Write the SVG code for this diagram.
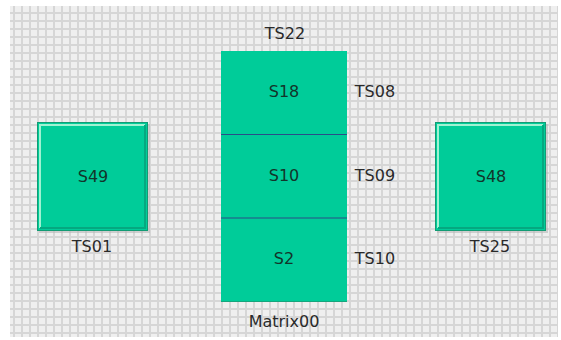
<svg xmlns="http://www.w3.org/2000/svg" width="561" height="340" viewBox="0 0 561 340">
<defs>
<pattern id="grid" x="10" y="6" width="8" height="8" patternUnits="userSpaceOnUse">
<rect width="8" height="8" fill="#efefef"/>
<rect x="3" y="0" width="2" height="8" fill="#d6d6d6"/>
<rect x="0" y="6" width="8" height="2" fill="#d6d6d6"/>
</pattern>
</defs>
<style>
.box{fill:#00cc99;stroke:#139b74;stroke-width:1}
.hi{fill:none;stroke:#9ff2d2;stroke-width:2}
.lo{fill:none;stroke:#05a880;stroke-width:2}
.sh{fill:#b8b8b8;opacity:0.6}
.in{font-family:"DejaVu Sans",sans-serif;font-size:16px;fill:#12352a;text-anchor:middle;dominant-baseline:central}
.lb{font-family:"DejaVu Sans",sans-serif;font-size:16px;fill:#2a2a2a;text-anchor:middle;dominant-baseline:central}
.div{stroke:#2b4c88;stroke-width:1.2}
</style>
<rect x="10" y="6" width="548" height="331" fill="url(#grid)"/>
<g id="connectors"></g>
<g id="S49">
<rect class="sh" x="39" y="124" width="111" height="109"/>
<rect class="box" x="37.5" y="122.5" width="110" height="108"/>
<polyline class="hi" points="40,228 40,125 145,125"/>
<polyline class="lo" points="40,228 145,228 145,125"/>
<text class="in" x="93" y="176">S49</text>
<text class="lb" x="92" y="246">TS01</text>
</g>
<g id="Matrix00">
<rect x="221" y="51" width="126" height="251" fill="#00cc99"/>
<line x1="221" y1="301.5" x2="347" y2="301.5" stroke="#17a57d" stroke-width="1"/>
<line class="div" x1="221" y1="134.5" x2="347" y2="134.5"/>
<line class="div" x1="221" y1="218" x2="347" y2="218"/>
<text class="lb" x="285" y="33">TS22</text>
<text class="lb" x="284" y="321">Matrix00</text>
</g>
<g id="S18">
<text class="in" x="284" y="91">S18</text>
<text class="lb" x="375" y="91">TS08</text>
</g>
<g id="S10">
<text class="in" x="284" y="175">S10</text>
<text class="lb" x="375" y="175">TS09</text>
</g>
<g id="S2">
<text class="in" x="284" y="258">S2</text>
<text class="lb" x="375" y="258">TS10</text>
</g>
<g id="S48">
<rect class="sh" x="437" y="124" width="111" height="109"/>
<rect class="box" x="435.5" y="122.5" width="110" height="108"/>
<polyline class="hi" points="438,228 438,125 543,125"/>
<polyline class="lo" points="438,228 543,228 543,125"/>
<text class="in" x="491" y="176">S48</text>
<text class="lb" x="490" y="246">TS25</text>
</g>
</svg>
